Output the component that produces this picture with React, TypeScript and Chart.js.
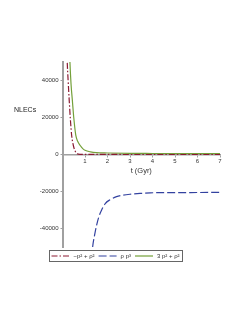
import React, { useEffect, useRef } from "react";
import { Chart, registerables } from "chart.js";

Chart.register(...registerables);

// ---- data ----
const seriesLabels = ["\u2212p\u00B2 + \u03C1\u00B2", "\u03C1 p\u00B3", "3 p\u00B2 + \u03C1\u00B2"];

const redT = [0.18, 0.21, 0.25, 0.3, 0.35, 0.41, 0.48, 0.55, 0.65, 0.8, 1, 2, 3, 5, 7];
const redV = [62000, 50000, 40000, 29000, 19000, 10000, 5000, 2200, 400, 100, 50, 20, 10, 5, 3];

const blueT = [1.3, 1.34, 1.42, 1.52, 1.62, 1.74, 1.9, 2.11, 2.4, 2.69, 3.0, 3.5, 3.9, 5, 6, 7];
const blueV = [-56000, -50000, -44000, -38000, -33500, -30000, -26500, -24500, -22800, -22000, -21500, -21000, -20700, -20600, -20550, -20500];

const greenT = [0.3, 0.33, 0.38, 0.44, 0.5, 0.59, 0.68, 0.78, 0.9, 1.0, 1.25, 1.5, 2, 3, 4, 5, 6, 7];
const greenV = [62000, 50000, 38000, 29000, 20000, 10500, 7000, 5000, 3200, 2300, 1400, 1000, 800, 600, 550, 520, 510, 500];

const xTickValues = [1, 2, 3, 4, 5, 6, 7];
const yTickValues = [-40000, -20000, 0, 20000, 40000];
const xRange = [0, 7];
const yRange = [-50000, 50000];
const xTitle = "t (Gyr)";
const yTitle = "NLECs";

const FONT = '"Liberation Sans", Arial, sans-serif';

const toPts = (t: number[], v: number[]) => t.map((x, i) => ({ x, y: v[i] }));

export default function App() {
  const ref = useRef<HTMLCanvasElement | null>(null);

  useEffect(() => {
    if (!ref.current) return;

    const extras = {
      id: "extras",
      afterDraw(chart: any) {
        const { ctx, chartArea } = chart;
        ctx.save();
        // y title
        ctx.font = `7px ${FONT}`;
        ctx.fillStyle = "#222";
        ctx.textAlign = "left";
        ctx.textBaseline = "middle";
        ctx.fillText(yTitle, 14, chartArea.top + 48);

        // legend
        ctx.font = `6px ${FONT}`;
        const sample = 18;
        const gapText = 4;
        const gapItem = 4;
        const pad = 2.5;
        const ds = chart.data.datasets;
        let total = pad * 2;
        ds.forEach((d: any, i: number) => {
          total += sample + gapText + ctx.measureText(d.label).width + (i < ds.length - 1 ? gapItem : 0);
        });
        const boxL = chartArea.left - 13.5;
        const boxT = chartArea.bottom + 2.5;
        const boxH = 11;
        ctx.strokeStyle = "#666";
        ctx.lineWidth = 1;
        ctx.strokeRect(Math.round(boxL) + 0.5, Math.round(boxT) + 0.5, Math.round(total), boxH);
        const cy = Math.round(boxT) + 0.5 + boxH / 2;
        let x = boxL + pad;
        ds.forEach((d: any) => {
          ctx.save();
          ctx.strokeStyle = d.borderColor;
          ctx.lineWidth = d.borderWidth;
          ctx.setLineDash(d.borderDash || []);
          ctx.beginPath();
          ctx.moveTo(x, cy);
          ctx.lineTo(x + sample, cy);
          ctx.stroke();
          ctx.restore();
          x += sample + gapText;
          ctx.fillStyle = "#333";
          ctx.textAlign = "left";
          ctx.textBaseline = "middle";
          ctx.fillText(d.label, x, cy + 0.5);
          x += ctx.measureText(d.label).width + gapItem;
        });
        ctx.restore();
      },
    };

    const chart = new Chart(ref.current, {
      type: "line",
      data: {
        datasets: [
          {
            label: seriesLabels[0],
            data: toPts(redT, redV),
            borderColor: "#8B1A32",
            borderWidth: 1.2,
            borderDash: [6, 2, 1.5, 2],
            pointRadius: 0,
            cubicInterpolationMode: "monotone",
            fill: false,
          },
          {
            label: seriesLabels[1],
            data: toPts(blueT, blueV),
            borderColor: "#3342A0",
            borderWidth: 1.2,
            borderDash: [8, 3],
            pointRadius: 0,
            cubicInterpolationMode: "monotone",
            fill: false,
          },
          {
            label: seriesLabels[2],
            data: toPts(greenT, greenV),
            borderColor: "#74A03A",
            borderWidth: 1.2,
            pointRadius: 0,
            cubicInterpolationMode: "monotone",
            fill: false,
          },
        ],
      },
      options: {
        animation: false,
        responsive: false,
        devicePixelRatio: 1,
        layout: { padding: { left: 0, right: 21, top: 62, bottom: 65 } },
        plugins: { legend: { display: false }, tooltip: { enabled: false } },
        scales: {
          x: {
            type: "linear",
            position: { y: 0 } as any,
            min: xRange[0],
            max: xRange[1],
            afterBuildTicks: (s: any) => {
              s.ticks = xTickValues.map((v) => ({ value: v }));
            },
            border: { display: true, color: "#a0a0a0", width: 1.5 },
            grid: { display: true, drawOnChartArea: false, tickLength: 2, color: "#a0a0a0" },
            ticks: { font: { family: FONT, size: 6 }, color: "#333", padding: 1, maxRotation: 0 },
            title: { display: true, text: xTitle, font: { family: FONT, size: 7.5 }, color: "#333", padding: { top: 1, bottom: 0 } },
          },
          y: {
            type: "linear",
            min: yRange[0],
            max: yRange[1],
            afterBuildTicks: (s: any) => {
              s.ticks = yTickValues.map((v) => ({ value: v }));
            },
            afterFit: (s: any) => {
              s.width = 62.5;
            },
            border: { display: true, color: "#a0a0a0", width: 2 },
            grid: { display: true, drawOnChartArea: false, tickLength: 2, color: "#a0a0a0" },
            ticks: {
              font: { family: FONT, size: 6 },
              color: "#333",
              padding: 2,
              callback: (v: any) => String(v),
            },
          },
        },
      },
      plugins: [extras],
    });

    return () => chart.destroy();
  }, []);

  return (
    <div style={{ position: "absolute", left: 0, top: 0, width: 241, height: 312 }}>
      <canvas ref={ref} width={241} height={312} style={{ width: 241, height: 312 }} />
    </div>
  );
}
